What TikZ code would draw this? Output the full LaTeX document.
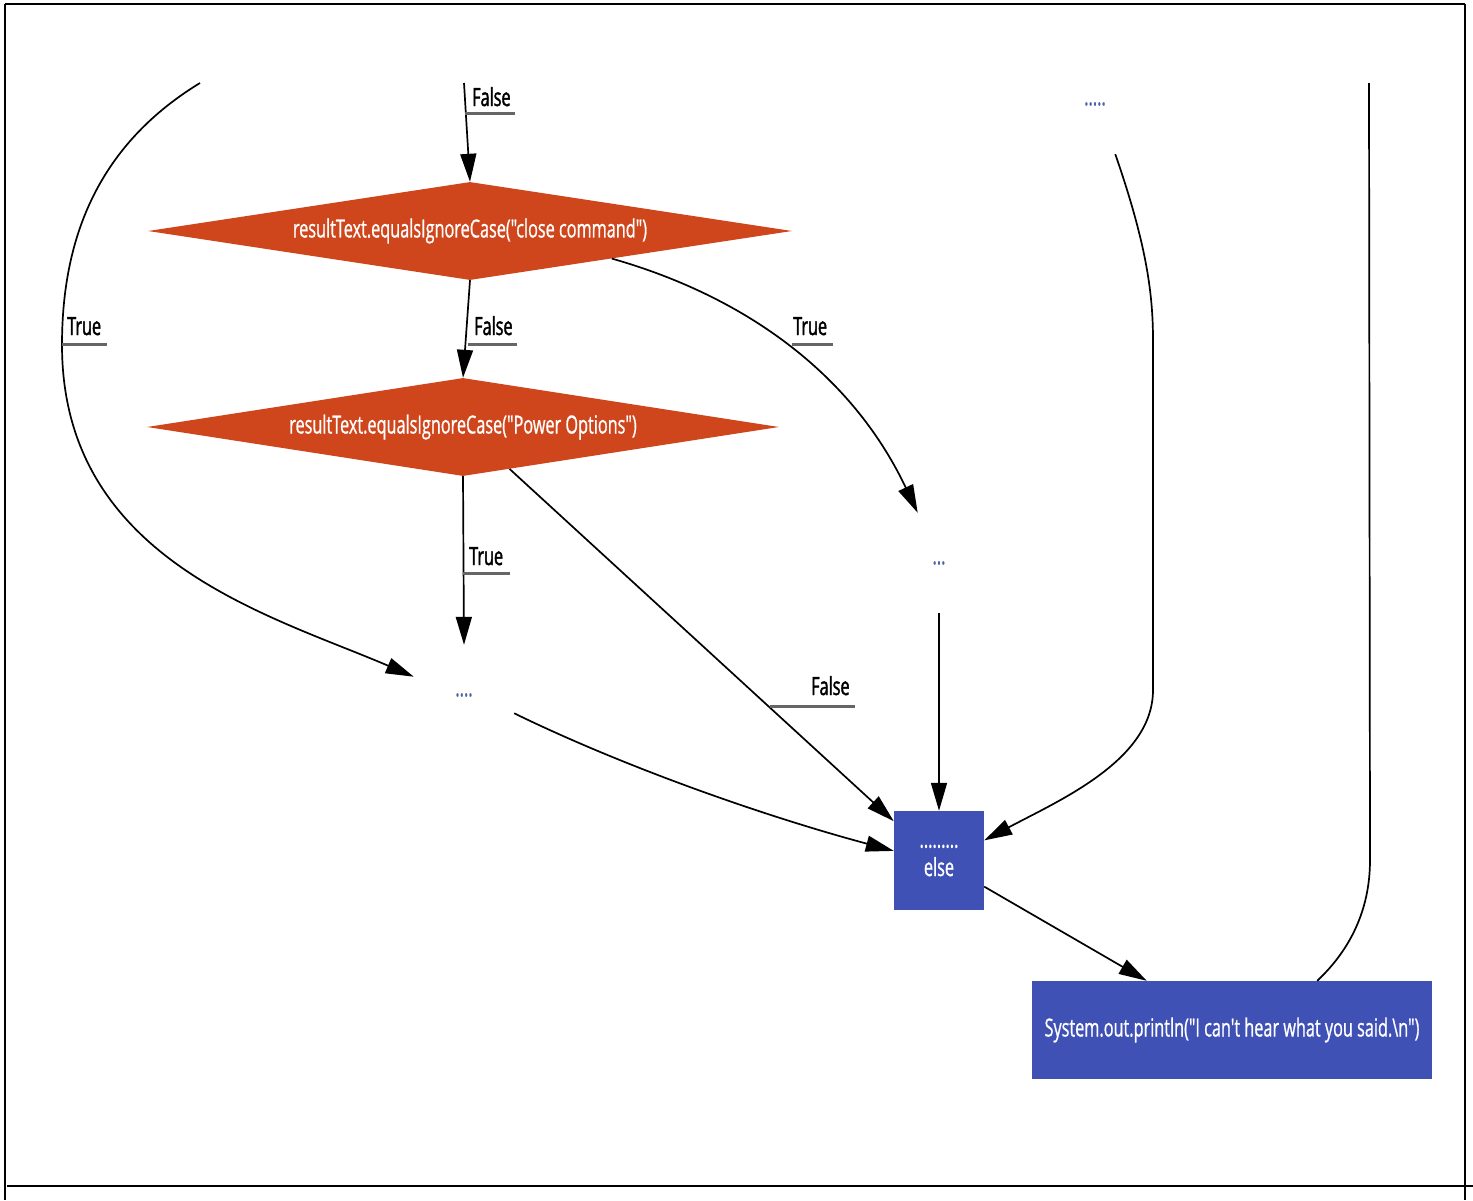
\documentclass[tikz,border=0pt]{standalone}
\usepackage{fontspec}
\setmainfont{Open Sans}[FakeStretch=0.65,FakeBold=0.8,Ligatures=TeXOff]
\newfontfamily\lblfont{Open Sans}[FakeStretch=0.65,FakeBold=1.6,Ligatures=TeXOff]
\usetikzlibrary{arrows.meta,shapes.geometric}
\definecolor{dorange}{HTML}{D0461C}
\definecolor{dblue}{HTML}{3F51B5}
\definecolor{dotcol}{HTML}{5060A0}
\begin{document}
\begin{tikzpicture}[x=1pt,y=-1pt,
  frameline/.style={draw=black, line width=2.6pt},
  edge/.style={draw=black, line width=1.7pt, -{Triangle[length=28pt,width=16pt]}},
  plainedge/.style={draw=black, line width=1.7pt},
  decision/.style={shape=diamond, fill=dorange, draw=none, inner sep=0pt, text=white,
    font=\fontsize{25}{28}\selectfont},
  action/.style={shape=rectangle, fill=dblue, draw=none, inner sep=0pt, text=white,
    font=\fontsize{25}{28}\selectfont, align=center},
  dots/.style={shape=rectangle, draw=none, minimum width=100pt, minimum height=100pt,
    inner sep=0pt, text=dotcol, font=\fontsize{25}{28}\selectfont},
  lbl/.style={inner sep=0pt, anchor=base west, text=black, font=\lblfont\fontsize{25}{28}\selectfont},
  uline/.style={draw=black!60, line width=3pt}]
\useasboundingbox (0,0) rectangle (1473,1200);
% frame
\draw[frameline] (5,4) -- (1465,4);
\draw[frameline] (5,4) -- (5,1200);
\draw[frameline] (1465,4) -- (1465,1200);
\draw[frameline] (7,1186) -- (1473,1186);
% nodes
\node[decision, aspect=6.57, minimum width=644pt, minimum height=98pt] (dA) at (470,231) {resultText.equalsIgnoreCase("close command")};
\node[decision, aspect=6.45, minimum width=632pt, minimum height=98pt] (dB) at (463,427) {resultText.equalsIgnoreCase("Power Options")};
\node[dots] (dE) at (1095,104) {.....};
\node[dots] (dC) at (939,563) {...};
\node[dots] (dD) at (464,695) {....};
\node[action, minimum width=90pt, minimum height=99pt] (eB) at (939,860.5) {\raisebox{-9pt}{\shortstack{.........\\[6pt]else}}};
\node[action, minimum width=400pt, minimum height=98pt] (sB) at (1232,1030) {System.out.println("I can't hear what you said.\textbackslash n")};
% free ends (clipped edges)
\coordinate (topF) at (464,83);
\coordinate (topT) at (200,83);
\coordinate (topR) at (1369,83);
% edges
\draw[edge] (topF) -- (dA.north);
\draw[edge] (topT) .. controls (90,150) and (62,250) .. (62,345) .. controls (62,560) and (270,615) .. (dD.160);
\draw[edge] (dA.south) -- (dB.north);
\draw[edge] (dA.-11) .. controls (740,295) and (850,370) .. (dC.113);
\draw[edge] (dB.south) -- (dD.north);
\draw[edge] (dB.-42) -- (eB.139);
\draw[edge] (dC.south) -- (eB.north);
\draw[edge] (dD.-20) .. controls (620,765) and (760,815) .. (eB.168);
\draw[edge] (dE.-68) .. controls (1145,240) and (1153,290) .. (1153,340) -- (1153,690) .. controls (1153,760) and (1060,800) .. (eB.24);
\draw[edge] (eB.-30) -- (sB.150);
\draw[plainedge] (sB.30) .. controls (1350,950) and (1370,910) .. (1370,860) -- (topR);
% edge labels
\node[lbl] (lF1) at (472,106) {False};
\draw[uline] (465,113) -- (515,113);
\node[lbl] (lT1) at (67,335) {True};
\draw[uline] (62,344) -- (107,344);
\node[lbl] (lF2) at (474,335) {False};
\draw[uline] (468,344) -- (517,344);
\node[lbl] (lT2) at (793,335) {True};
\draw[uline] (792,344) -- (833,344);
\node[lbl] (lT3) at (469,565) {True};
\draw[uline] (463,573) -- (510,573);
\node[lbl] (lF3) at (811,695) {False};
\draw[uline] (770,706) -- (855,706);
\end{tikzpicture}
\end{document}
